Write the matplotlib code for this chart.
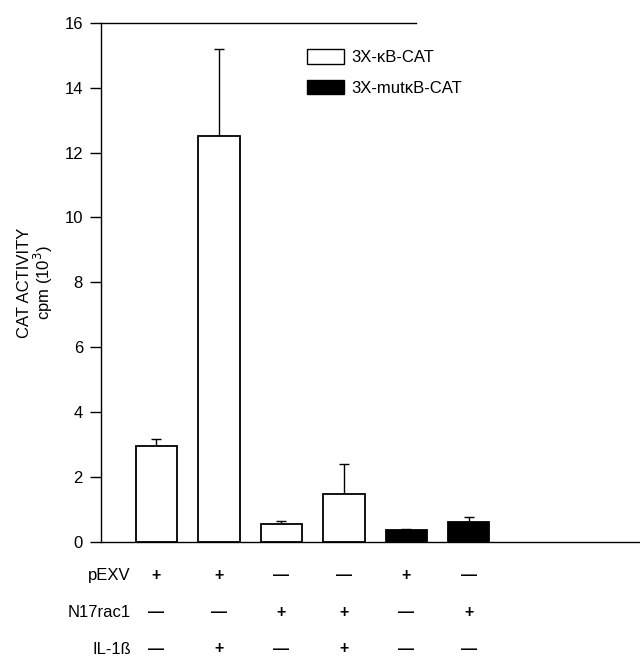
import matplotlib
matplotlib.use("Agg")
import matplotlib.pyplot as plt
import matplotlib.transforms as mtransforms
from matplotlib.patches import Patch

plt.rcParams['font.family'] = ['Liberation Sans', 'DejaVu Sans']

# bar values (cpm x 10^3)
positions = [1, 2, 3, 4, 5, 6]
activity = [2.97, 12.5, 0.56, 1.48, 0.36, 0.62]
upper_err = [0.2, 2.7, 0.1, 0.93, 0.03, 0.15]
reporter = ['wt', 'wt', 'wt', 'wt', 'mut', 'mut']

row_names = ['pEXV', 'N17rac1', 'IL-1ß']
pexv = ['+', '+', '—', '—', '+', '—']
n17rac1 = ['—', '—', '+', '+', '—', '+']
il1b = ['—', '+', '—', '+', '—', '—']

yticks = [0, 2, 4, 6, 8, 10, 12, 14, 16]

fig = plt.figure(figsize=(6.4, 6.57), dpi=100)
ax = fig.add_axes([101 / 640, (657 - 542) / 657, 1 - 101 / 640, (542 - 22.7) / 657])

colors = ['white' if r == 'wt' else 'black' for r in reporter]
ax.bar(positions, activity, width=0.66, color=colors, edgecolor='black', linewidth=1.3, zorder=2)
ax.errorbar(positions, activity, yerr=[[0] * 6, upper_err], fmt='none',
            ecolor='black', elinewidth=1, capsize=3.5, capthick=1, zorder=1)

ax.set_xlim(0.112, 8.74)
ax.set_ylim(0, 16)
ax.set_yticks(yticks)
ax.set_xticks([])
ax.tick_params(axis='y', direction='out', length=8, width=1, labelsize=12, pad=5)
for side in ['top', 'right']:
    ax.spines[side].set_visible(False)
ax.spines['left'].set_linewidth(1)
ax.spines['bottom'].set_linewidth(1)
ax.axhline(16, xmax=0.584, color='black', linewidth=1, clip_on=False)

ax.set_ylabel('CAT ACTIVITY\ncpm (10$^3$)', fontsize=12, labelpad=7, linespacing=0.95)

handles = [Patch(facecolor='white', edgecolor='black', linewidth=1, label='3X-κB-CAT'),
           Patch(facecolor='black', edgecolor='black', label='3X-mutκB-CAT')]
ax.legend(handles=handles, loc='upper left', bbox_to_anchor=(299 / 640, (657 - 41) / 657),
          bbox_transform=fig.transFigure, frameon=False, fontsize=12, borderpad=0,
          handlelength=2.2, handleheight=0.95, handletextpad=0.45, labelspacing=0.88)

# treatment table under the bars
trans = mtransforms.blended_transform_factory(ax.transData, fig.transFigure)
row_y = [575.7, 612.3, 649]
for name, signs, y in zip(row_names, [pexv, n17rac1, il1b], row_y):
    yf = (657 - y) / 657
    fig.text(131 / 640, yf, name, ha='right', va='center', fontsize=12)
    for x, s in zip(positions, signs):
        ax.text(x, yf, s, transform=trans, ha='center', va='center', fontsize=11.5,
                fontweight='bold', clip_on=False)

fig.savefig('out.png', dpi=100)
